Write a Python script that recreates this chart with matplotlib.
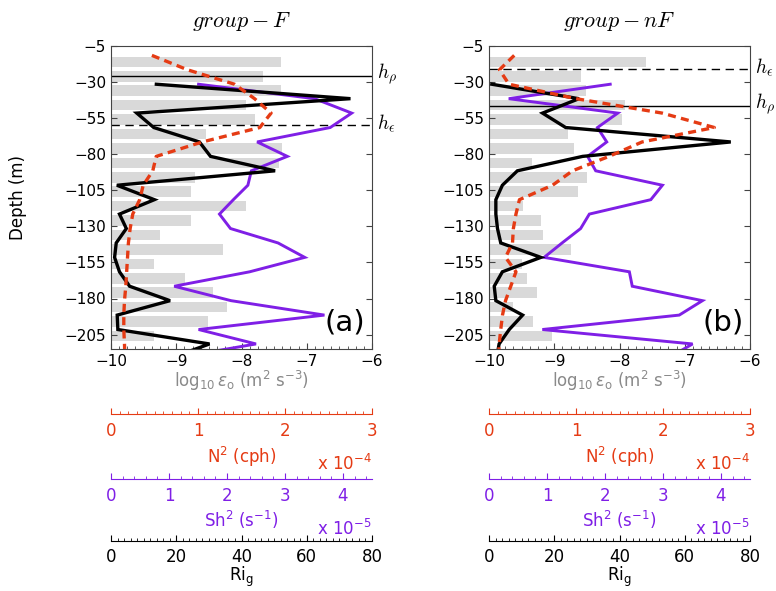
import numpy as np
import matplotlib
matplotlib.use('Agg')
import matplotlib.pyplot as plt
from matplotlib.ticker import MultipleLocator

plt.rcParams['font.family'] = ['DejaVu Sans']
plt.rcParams['mathtext.fontset'] = 'dejavusans'

RED = '#e53b14'
PURPLE = '#7f1fe6'
BAR = '#d9d9d9'
FRAME = '#444444'
GREY_TXT = '#8a8a8a'

# bin centres for dissipation bars, and depths of the profile lines (m)
z_bar = [-16, -26, -36, -46, -56, -66, -76, -86, -96, -106,
         -116, -126, -136, -146, -156, -166, -176, -186, -196, -206]
z_line = [-11.5, -21.5, -31.5, -41.5, -51.5, -61.5, -71.5, -81.5, -91.5, -101.5, -111.5,
          -121.5, -131.5, -141.5, -151.5, -161.5, -171.5, -181.5, -191.5, -201.5, -211.5, -221.5]
nan = np.nan

# group F
eps_F = [-7.39, -7.67, -7.40, -7.93, -7.80, -8.54, -7.38, -7.42, -8.71, -8.78,
         -7.93, -8.78, -9.25, -8.28, -9.34, -8.86, -8.43, -8.22, -8.52, -9.34]
n2_F = [0.47, 0.88, 1.42, 1.65, 1.84, 1.71, 1.05, 0.52, 0.48, 0.37, 0.33,
        0.25, 0.22, 0.20, 0.19, 0.18, 0.17, 0.155, 0.147, 0.147, 0.155, 0.16]
sh2_F = [nan, nan, 1.51, 3.51, 4.15, 3.78, 2.52, 3.04, 2.42, 2.36, 2.11,
         1.87, 2.06, 2.88, 3.34, 2.39, 1.09, 2.07, 3.68, 1.51, 2.50, 1.06]
ri_F = [nan, nan, 13.9, 73.4, 7.9, 13.1, 27.1, 30.5, 50.3, 1.8, 13.3,
        2.6, 4.7, 1.6, 1.1, 2.6, 5.7, 18.1, 1.9, 2.1, 30.2, 18.0]
hrho_F, heps_F = -25.8, -60.0

# group nF
eps_nF = [-7.60, -8.59, -8.51, -7.91, -7.96, -8.79, -8.69, -9.34, -8.50, -8.64,
          -9.48, -9.21, -9.17, -8.74, -9.50, -9.41, -9.26, -9.63, -9.32, -9.04]
n2_nF = [0.29, 0.12, 0.23, 1.00, 1.99, 2.59, 1.76, 1.38, 0.96, 0.73, 0.35,
         0.31, 0.28, 0.27, 0.19, 0.31, 0.25, 0.19, 0.155, 0.135, 0.117, 0.11]
sh2_nF = [nan, nan, 2.09, 0.34, 2.22, 1.87, 2.03, 1.70, 1.84, 2.99, 2.79,
          1.73, 1.58, 1.26, 0.95, 2.42, 2.47, 3.68, 3.28, 0.92, 3.51, 3.08]
ri_nF = [nan, nan, 0.86, 27.6, 16.4, 23.5, 74.1, 28.7, 8.7, 4.1, 2.1,
         2.1, 2.6, 3.6, 15.9, 4.1, 1.6, 2.1, 10.3, 6.2, 3.1, 2.3]
hrho_nF, heps_nF = -46.6, -21.2

depth_ticks = [-5, -30, -55, -80, -105, -130, -155, -180, -205]

W, H = 776.0, 591.0
fig = plt.figure(figsize=(W / 100, H / 100), dpi=100)


def box(x0, y0, x1, y1):
    return [x0 / W, 1 - y1 / H, (x1 - x0) / W, (y1 - y0) / H]


def profile(rect, eps, n2, sh2, ri, hrho, heps, title, tag, ylabel):
    ax = fig.add_axes(rect)
    ax.barh(z_bar, np.array(eps) + 10, left=-10, height=7.4, color=BAR, zorder=1)
    ax.set_xlim(-10, -6)
    ax.set_ylim(-215, -5)
    ax.set_yticks(depth_ticks)
    ax.xaxis.set_major_locator(MultipleLocator(1))
    ax.xaxis.set_minor_locator(MultipleLocator(0.125))
    ax.tick_params(which='both', direction='in', top=True, right=True,
                   labelsize=11, color=FRAME)
    ax.tick_params(which='major', length=4)
    ax.tick_params(which='minor', length=2)
    for s in ax.spines.values():
        s.set_color(FRAME)
        s.set_linewidth(0.8)
    ax.set_xlabel(r'log$_{10}\,\varepsilon_{\mathrm{o}}$ (m$^2$ s$^{-3}$)',
                  color=GREY_TXT, fontsize=12, labelpad=0)
    if ylabel:
        ax.set_ylabel('Depth (m)', fontsize=12)
        ax.yaxis.set_label_coords(-0.32, 0.5)
    # fixed y keeps the twins from pushing the title upward
    ax.set_title(title, math_fontfamily='cm', fontsize=16, y=1.0, pad=14)

    ax.axhline(hrho, color='k', lw=1.0, zorder=2)
    ax.axhline(heps, color='k', lw=1.0, dashes=(6, 4), zorder=2)
    tr = ax.get_yaxis_transform()
    ax.text(1.02, hrho + 1.5, r'$h_\rho$', transform=tr, math_fontfamily='cm',
            fontsize=14, va='center', ha='left')
    ax.text(1.02, heps + 1.5, r'$h_\epsilon$', transform=tr, math_fontfamily='cm',
            fontsize=14, va='center', ha='left')

    # each profile drawn against its own x scale
    top = None
    for vals, lim, kw in [(sh2, 4.5, dict(color=PURPLE, lw=2.1)),
                          (ri, 80, dict(color='k', lw=2.4)),
                          (n2, 3, dict(color=RED, lw=2.4, dashes=(2.4, 1.6)))]:
        t = ax.twiny()
        t.plot(vals, z_line, solid_joinstyle='miter', **kw)
        t.set_xlim(0, lim)
        t.axis('off')
        top = t
    top.text(0.975, 0.088, tag, transform=ax.transAxes, fontsize=21,
             ha='right', va='center')
    return ax


def scale_axis(x0, x1, y, lim, minor, color, label, mult, labelpad=3, pad=6):
    a = fig.add_axes([x0 / W, 1 - y / H, (x1 - x0) / W, 1e-4])
    for s in ['top', 'left', 'right']:
        a.spines[s].set_visible(False)
    a.spines['bottom'].set_color(color)
    a.spines['bottom'].set_linewidth(0.8)
    a.patch.set_visible(False)
    a.set_yticks([])
    a.set_xlim(0, lim)
    a.xaxis.set_major_locator(MultipleLocator(lim // 4 if lim > 10 else 1))
    a.xaxis.set_minor_locator(MultipleLocator(minor))
    a.tick_params(axis='x', which='both', direction='in', colors=color,
                  labelsize=12, pad=pad)
    a.tick_params(which='major', length=4)
    a.tick_params(which='minor', length=2)
    a.set_xlabel(label, color=color, fontsize=12, labelpad=labelpad)
    if mult:
        a.annotate(mult, (1, 0), xycoords='axes fraction', xytext=(0, -36),
                   textcoords='offset points', ha='right', va='center',
                   color=color, fontsize=12)


panels = [(111, 372, eps_F, n2_F, sh2_F, ri_F, hrho_F, heps_F, r'$group-F$', '(a)', True),
          (489, 750, eps_nF, n2_nF, sh2_nF, ri_nF, hrho_nF, heps_nF, r'$group-nF$', '(b)', False)]

for x0, x1, eps, n2, sh2, ri, hrho, heps, title, tag, yl in panels:
    profile(box(x0, 46, x1, 349), eps, n2, sh2, ri, hrho, heps, title, tag, yl)
    scale_axis(x0, x1, 414, 3, 0.1, RED, 'N$^2$ (cph)', r'x 10$^{-4}$')
    scale_axis(x0, x1, 478.5, 4.5, 0.2, PURPLE, 'Sh$^2$ (s$^{-1}$)', r'x 10$^{-5}$')
    scale_axis(x0, x1, 541, 80, 2, 'k', r'Ri$_{\mathrm{g}}$', None, labelpad=-1, pad=5)

fig.savefig('out.png', dpi=100)
